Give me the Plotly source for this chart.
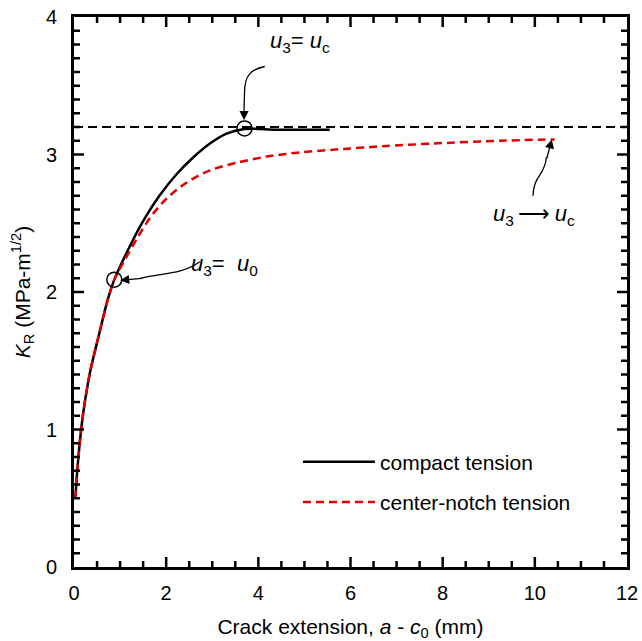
import plotly.graph_objects as go

# Resistance curves K_R versus crack extension
ct_ext = [0.03, 0.07, 0.13, 0.20, 0.35, 0.55, 0.72, 0.875, 1.215, 1.5, 1.865, 2.23, 2.59, 2.95, 3.31,
          3.7, 4.4, 5.55]
ct_kr = [0.50, 0.70, 0.92, 1.12, 1.42, 1.70, 1.93, 2.09, 2.335, 2.515, 2.705, 2.858, 2.98, 3.08, 3.152,
         3.186, 3.18, 3.18]

cn_ext = [0.03, 0.07, 0.13, 0.20, 0.35, 0.55, 0.72, 0.875, 1.07, 1.36, 1.65, 2.01, 2.44, 2.95, 3.53,
          4.18, 4.9, 5.62, 6.7, 7.8, 9.24, 10.43]
cn_kr = [0.50, 0.70, 0.92, 1.12, 1.42, 1.70, 1.93, 2.09, 2.215, 2.385, 2.54, 2.68, 2.795, 2.885, 2.94,
         2.985, 3.015, 3.035, 3.06, 3.08, 3.10, 3.11]

kc_level = 3.2
marked_ext = [0.875, 3.7]
marked_kr = [2.09, 3.19]

x_major = [0, 2, 4, 6, 8, 10, 12]
y_major = [0, 1, 2, 3, 4]
X_MINOR_STEP = 0.5
Y_MINOR_STEP = 0.1

FONT = "Liberation Sans, Arial, sans-serif"
W, H = 642, 641
M = dict(l=74, r=15, t=17, b=74)
PLOT_H = H - M["t"] - M["b"]
Y_SPAN = y_major[-1] - y_major[0]

fig = go.Figure()

fig.add_trace(go.Scatter(x=[0, 12], y=[kc_level, kc_level], mode="lines",
                         line=dict(color="black", width=2, dash="9px,5px"),
                         showlegend=False, hoverinfo="skip"))
fig.add_trace(go.Scatter(x=ct_ext, y=ct_kr, mode="lines", name="compact tension",
                         legendgroup="ct", legendrank=1,
                         line=dict(color="black", width=2.5, shape="spline", smoothing=0.8)))
fig.add_trace(go.Scatter(x=cn_ext, y=cn_kr, mode="lines", name="center-notch tension",
                         legendgroup="cn", legendrank=2,
                         line=dict(color="#e00000", width=2.5, dash="8px,5px",
                                   shape="spline", smoothing=0.8)))
fig.add_trace(go.Scatter(x=marked_ext, y=marked_kr, mode="markers", showlegend=False,
                         marker=dict(symbol="circle-open", size=15, color="black",
                                     line=dict(width=1.5))))

frame = dict(showline=True, linewidth=3, linecolor="black", mirror=True, ticks="",
             showgrid=False, zeroline=False, automargin=False, tickmode="array")

fig.update_layout(
    width=W, height=H,
    margin=M,
    paper_bgcolor="white", plot_bgcolor="white",
    font=dict(family=FONT, size=20, color="black"),
    legend=dict(x=0.405, y=0.228, xanchor="left", yanchor="top",
                itemwidth=72, font=dict(size=21), bgcolor="rgba(0,0,0,0)",
                tracegroupgap=10),
    xaxis=dict(range=[x_major[0], x_major[-1]], tickvals=x_major, ticklabelstandoff=6,
               title=dict(text="Crack extension, <i>a</i> - <i>c</i><sub>0</sub> (mm)",
                          font=dict(size=21), standoff=22),
               **frame),
    yaxis=dict(range=[y_major[0], y_major[-1]], tickvals=y_major, ticklabelstandoff=10,
               title=dict(text="<i>K</i><sub>R</sub> (MPa-m<sup>1/2</sup>)",
                          font=dict(size=21), standoff=10),
               **frame),
)

# inward tick marks along the top and bottom edges, drawn as one line trace
n_xminor = int(round((x_major[-1] - x_major[0]) / X_MINOR_STEP))
x_minor = [x_major[0] + i * X_MINOR_STEP for i in range(1, n_xminor)]
tick_x, tick_y = [], []
for v in x_minor:
    length = (10 if v in x_major else 6) * Y_SPAN / PLOT_H
    for base, sign in ((y_major[0], 1), (y_major[-1], -1)):
        tick_x += [v, v, None]
        tick_y += [base, base + sign * length, None]
fig.add_trace(go.Scatter(x=tick_x, y=tick_y, mode="lines", showlegend=False, hoverinfo="skip",
                         line=dict(color="black", width=2.5), cliponaxis=False))

# inward tick marks along the left and right edges
tick_line = dict(color="black", width=2.5)
n_yminor = int(round(Y_SPAN / Y_MINOR_STEP))
y_minor = [y_major[0] + i * Y_MINOR_STEP for i in range(1, n_yminor)]
for v in y_minor:
    length = 10 if round(v, 6) in y_major else 6
    for anchor, sign in ((0, 1), (1, -1)):
        fig.add_shape(type="line", xref="paper", yref="y", y0=v, y1=v,
                      xsizemode="pixel", xanchor=anchor, x0=0, x1=sign * length,
                      line=tick_line, layer="above")

# curved leader lines for the labels
line_style = dict(color="black", width=1.3)
fig.add_shape(type="path", xref="x", yref="y",
              path="M 4.14,3.64 C 3.85,3.62 3.70,3.58 3.70,3.45 L 3.69,3.33",
              line=line_style)
fig.add_shape(type="path", xref="x", yref="y",
              path="M 2.73,2.22 C 2.3,2.12 1.9,2.14 1.45,2.10",
              line=line_style)
fig.add_shape(type="path", xref="x", yref="y",
              path="M 9.96,2.70 C 9.98,2.86 10.22,2.84 10.25,2.98",
              line=line_style)

arrow = dict(showarrow=True, arrowhead=2, arrowsize=1.4, arrowwidth=1.3, arrowcolor="black",
             axref="x", ayref="y", xref="x", yref="y", text="")
fig.add_annotation(x=3.69, y=3.25, ax=3.69, ay=3.34, **arrow)
fig.add_annotation(x=1.0, y=2.085, ax=1.5, ay=2.10, **arrow)
fig.add_annotation(x=10.37, y=3.11, ax=10.25, ay=2.96, **arrow)

lab = dict(showarrow=False, xref="x", yref="y", font=dict(family=FONT, size=22, color="black"))
fig.add_annotation(x=4.2, y=3.82, xanchor="left",
                   text="<i>u</i><sub>3</sub>= <i>u</i><sub>c</sub>", **lab)
fig.add_annotation(x=2.5, y=2.2, xanchor="left",
                   text="<i>u</i><sub>3</sub>=  <i>u</i><sub>0</sub>", **lab)
fig.add_annotation(x=9.05, y=2.56, xanchor="left",
                   text="<i>u</i><sub>3</sub>\u2009\u27f6\u2009<i>u</i><sub>c</sub>", **lab)

fig.write_html("out.html")
